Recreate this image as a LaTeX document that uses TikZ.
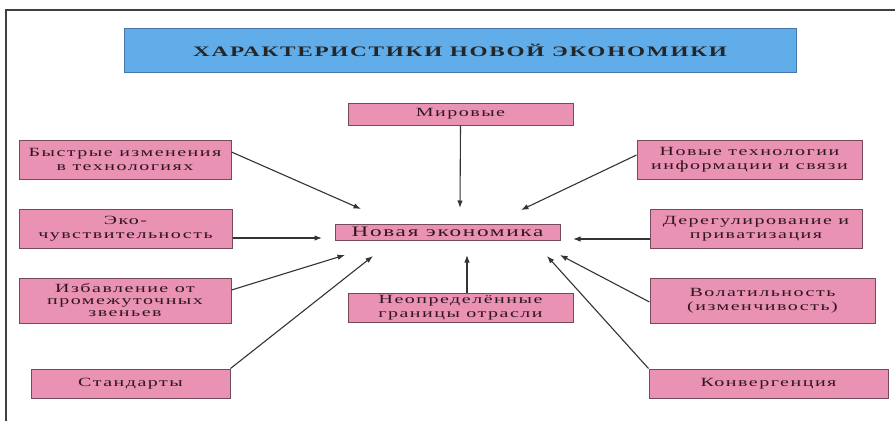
\documentclass[tikz,border=0pt]{standalone}
\usepackage{fontspec}
\setmainfont{Liberation Serif}[FakeStretch=1.6,LetterSpace=12]
\usetikzlibrary{arrows.meta}

\definecolor{boxpink}{RGB}{233,146,180}
\definecolor{boxedge}{RGB}{115,75,90}
\definecolor{titleblue}{RGB}{96,173,234}
\definecolor{titleedge}{RGB}{70,120,170}
\definecolor{inktext}{RGB}{50,22,32}

\begin{document}
\begin{tikzpicture}[x=1pt,y=-1pt,
	feature/.style={draw=boxedge,line width=1pt,fill=boxpink,text=inktext,align=center,
		inner sep=0pt,font=\fontsize{12.5}{13.5}\selectfont},
	heading/.style={draw=titleedge,line width=1pt,fill=titleblue,text=black!85,
		inner sep=0pt,font=\fontsize{14.5}{16}\selectfont\bfseries},
	link/.style={draw=black!80,line width=1.1pt,-{Latex[length=7.5pt,width=5.5pt]}}]
	\useasboundingbox (0,0) rectangle (895,421);
	\draw[black!75,line width=1.2pt] (6,421) -- (6,10) -- (895,10);

	\node[heading,minimum width=672pt,minimum height=44pt] (title) at (460,50) {ХАРАКТЕРИСТИКИ НОВОЙ ЭКОНОМИКИ};

	\node[feature,minimum width=225pt,minimum height=16pt,font=\fontsize{14.5}{16}\selectfont] (econ) at (447.5,232) {Новая экономика};

	\node[feature,minimum width=225pt,minimum height=22pt] (world) at (460.5,114) {Мировые};
	\node[feature,minimum width=212pt,minimum height=39pt] (fastchange) at (125,159.5) {Быстрые изменения\\в технологиях};
	\node[feature,minimum width=225pt,minimum height=39pt] (infotech) at (749.5,159.5) {Новые технологии\\информации и связи};
	\node[feature,minimum width=213pt,minimum height=39pt] (eco) at (125.5,228.5) {Эко-\\чувствительность};
	\node[feature,minimum width=212pt,minimum height=39pt] (dereg) at (756,228.5) {Дерегулирование и\\приватизация};
	\node[feature,minimum width=212pt,minimum height=45pt,font=\fontsize{12.5}{12}\selectfont] (nomiddle) at (125,300.5) {Избавление от\\промежуточных\\звеньев};
	\node[feature,minimum width=225pt,minimum height=29pt] (bounds) at (460.5,307.5) {Неопределённые\\границы отрасли};
	\node[feature,minimum width=225pt,minimum height=45pt] (volat) at (762.5,300.5) {Волатильность\\(изменчивость)};
	\node[feature,minimum width=199pt,minimum height=29pt] (standards) at (130.5,383.5) {Стандарты};
	\node[feature,minimum width=239pt,minimum height=29pt] (converg) at (768.5,383.5) {Конвергенция};

	\coordinate (t-world) at (460,208);
	\coordinate (t-fast) at (361,209);
	\coordinate (t-info) at (521,210);
	\coordinate (t-eco) at (322,238);
	\coordinate (t-dereg) at (573,239);
	\coordinate (t-nomid) at (345,255);
	\coordinate (t-stand) at (373,256);
	\coordinate (t-bounds) at (467,255);
	\coordinate (t-converg) at (547,256);
	\coordinate (t-volat) at (560,255);

	\draw[link] (world.south) -- (t-world);
	\draw[link] ([yshift=7.5pt]fastchange.east) -- (t-fast);
	\draw[link] ([yshift=4.5pt]infotech.west) -- (t-info);
	\draw[link] ([yshift=-9.5pt]eco.east) -- (t-eco);
	\draw[link] ([yshift=-10.5pt]dereg.west) -- (t-dereg);
	\draw[link] ([yshift=10.5pt]nomiddle.east) -- (t-nomid);
	\draw[link] (standards.north east) -- (t-stand);
	\draw[link] ([xshift=6.5pt]bounds.north) -- (t-bounds);
	\draw[link] (converg.north west) -- (t-converg);
	\draw[link] ([yshift=-1.5pt]volat.west) -- (t-volat);
\end{tikzpicture}
\end{document}
